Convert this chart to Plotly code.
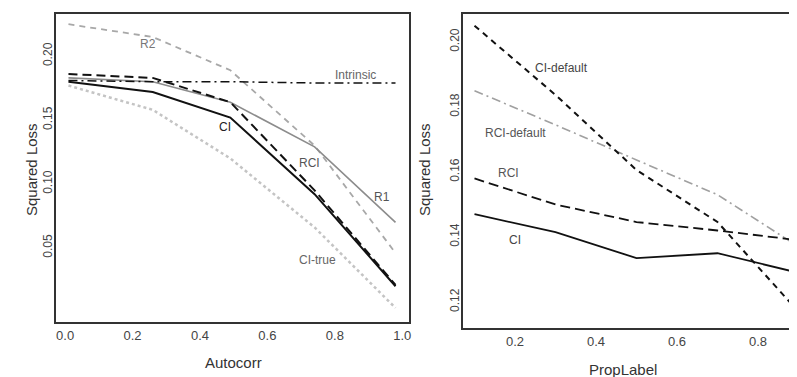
import plotly.graph_objects as go

# ---- Left panel data (Autocorr) ----
autocorr = [0.01, 0.26, 0.49, 0.74, 0.98]
left_CI = [0.180, 0.172, 0.152, 0.092, 0.020]
left_RCI = [0.186, 0.183, 0.164, 0.095, 0.021]
left_R1 = [0.183, 0.180, 0.164, 0.129, 0.070]
left_R2 = [0.225, 0.215, 0.189, 0.130, 0.046]
left_CItrue = [0.177, 0.158, 0.120, 0.066, 0.003]
left_Intrinsic = [0.181, 0.180, 0.180, 0.179, 0.179]

# ---- Right panel data (PropLabel) ----
proplabel = [0.1, 0.3, 0.5, 0.7, 0.9]
right_CI = [0.147, 0.1415, 0.1335, 0.135, 0.129]
right_RCI = [0.158, 0.150, 0.1446, 0.142, 0.139]
right_CIdefault = [0.205, 0.1837, 0.1606, 0.1446, 0.117]
right_RCIdefault = [0.185, 0.1745, 0.1637, 0.153, 0.137]

left_ticks_x = [0.0, 0.2, 0.4, 0.6, 0.8, 1.0]
left_ticks_y = [0.05, 0.10, 0.15, 0.20]
right_ticks_x = [0.2, 0.4, 0.6, 0.8]
right_ticks_y = [0.12, 0.14, 0.16, 0.18, 0.20]

FONT = "Liberation Sans, Arial, sans-serif"
fig = go.Figure()

def add(x, y, color, width, dash, xa, ya):
    fig.add_trace(go.Scatter(x=x, y=y, mode="lines", xaxis=xa, yaxis=ya,
                             line=dict(color=color, width=width, dash=dash),
                             showlegend=False, hoverinfo="skip"))

add(autocorr, left_CItrue, "#c4c4c4", 2.5, "dot", "x", "y")
add(autocorr, left_R2, "#a8a8a8", 1.8, "6px,5px", "x", "y")
add(autocorr, left_R1, "#8c8c8c", 1.6, "solid", "x", "y")
add(autocorr, left_Intrinsic, "#111111", 1.5, "9px,4px,2px,4px", "x", "y")
add(autocorr, left_RCI, "#111111", 2.0, "9px,5px", "x", "y")
add(autocorr, left_CI, "#111111", 2.0, "solid", "x", "y")

add(proplabel, right_RCIdefault, "#a0a0a0", 1.6, "9px,4px,2px,4px", "x2", "y2")
add(proplabel, right_CIdefault, "#111111", 2.0, "6px,5px", "x2", "y2")
add(proplabel, right_RCI, "#111111", 1.8, "10px,5px", "x2", "y2")
add(proplabel, right_CI, "#111111", 1.8, "solid", "x2", "y2")

# page body has an 8px default margin; lay out in page pixels
OFF = 8
W, H = 797 - OFF, 377 - OFF
def dx(a, b):
    return [(a - OFF) / W, (b - OFF) / W]
def dy(top, bottom):
    return [(H - (bottom - OFF)) / H, (H - (top - OFF)) / H]
def px(x):
    return (x - OFF) / W
def py(y):
    return (H - (y - OFF)) / H

axis_common = dict(showgrid=False, zeroline=False, showline=True, linecolor="#333333",
                   linewidth=2, ticks="", color="#444444", automargin=False)

fig.update_layout(
    template="none",
    width=W, height=H, margin=dict(l=0, r=0, t=0, b=0, pad=0),
    paper_bgcolor="white", plot_bgcolor="white",
    font=dict(family=FONT, color="#444444"),
    xaxis=dict(domain=dx(56, 409), range=[-0.027, 1.02], tickvals=left_ticks_x,
               ticktext=["0.0", "0.2", "0.4", "0.6", "0.8", "1.0"], mirror=True,
               tickfont=dict(size=13), anchor="y", **axis_common),
    yaxis=dict(domain=dy(14, 322), range=[-0.008, 0.233], tickvals=left_ticks_y,
               ticktext=["0.05", "0.10", "0.15", "0.20"], mirror=True, tickangle=-90,
               tickfont=dict(size=12), anchor="x", ticklabelstandoff=-3, **axis_common),
    xaxis2=dict(domain=dx(463, 797), range=[0.0716, 0.8963], tickvals=right_ticks_x,
                ticktext=["0.2", "0.4", "0.6", "0.8"], mirror=True,
                tickfont=dict(size=13), anchor="y2", **axis_common),
    yaxis2=dict(domain=dy(14, 328), range=[0.112, 0.2086], tickvals=right_ticks_y,
                ticktext=["0.12", "0.14", "0.16", "0.18", "0.20"], mirror=False, tickangle=-90,
                tickfont=dict(size=12), anchor="x2", ticklabelstandoff=-3, **axis_common),
)

# axis titles
titles = [
    (233, 362, "Autocorr", 0),
    (623, 369, "PropLabel", 0),
    (32, 170, "Squared Loss", -90),
    (425, 170, "Squared Loss", -90),
]
for x, y, t, ang in titles:
    fig.add_annotation(xref="paper", yref="paper", x=px(x), y=py(y), text=t,
                       showarrow=False, textangle=ang, xanchor="center", yanchor="middle",
                       font=dict(family=FONT, size=15, color="#333333"))

labels = [
    ("x", "y", 0.246, 0.2094, "R2", "#777777"),
    ("x", "y", 0.861, 0.1852, "Intrinsic", "#666666"),
    ("x", "y", 0.475, 0.1445, "CI", "#222222"),
    ("x", "y", 0.724, 0.1164, "RCI", "#555555"),
    ("x", "y", 0.941, 0.0898, "R1", "#555555"),
    ("x", "y", 0.748, 0.0406, "CI-true", "#666666"),
    ("x2", "y2", 0.316, 0.192, "CI-default", "#444444"),
    ("x2", "y2", 0.200, 0.172, "RCI-default", "#555555"),
    ("x2", "y2", 0.183, 0.1597, "RCI", "#555555"),
    ("x2", "y2", 0.200, 0.1391, "CI", "#444444"),
]
for xr, yr, x, y, t, c in labels:
    fig.add_annotation(xref=xr, yref=yr, x=x, y=y, text=t, showarrow=False,
                       font=dict(family=FONT, size=12, color=c))

fig.write_html("out.html")
